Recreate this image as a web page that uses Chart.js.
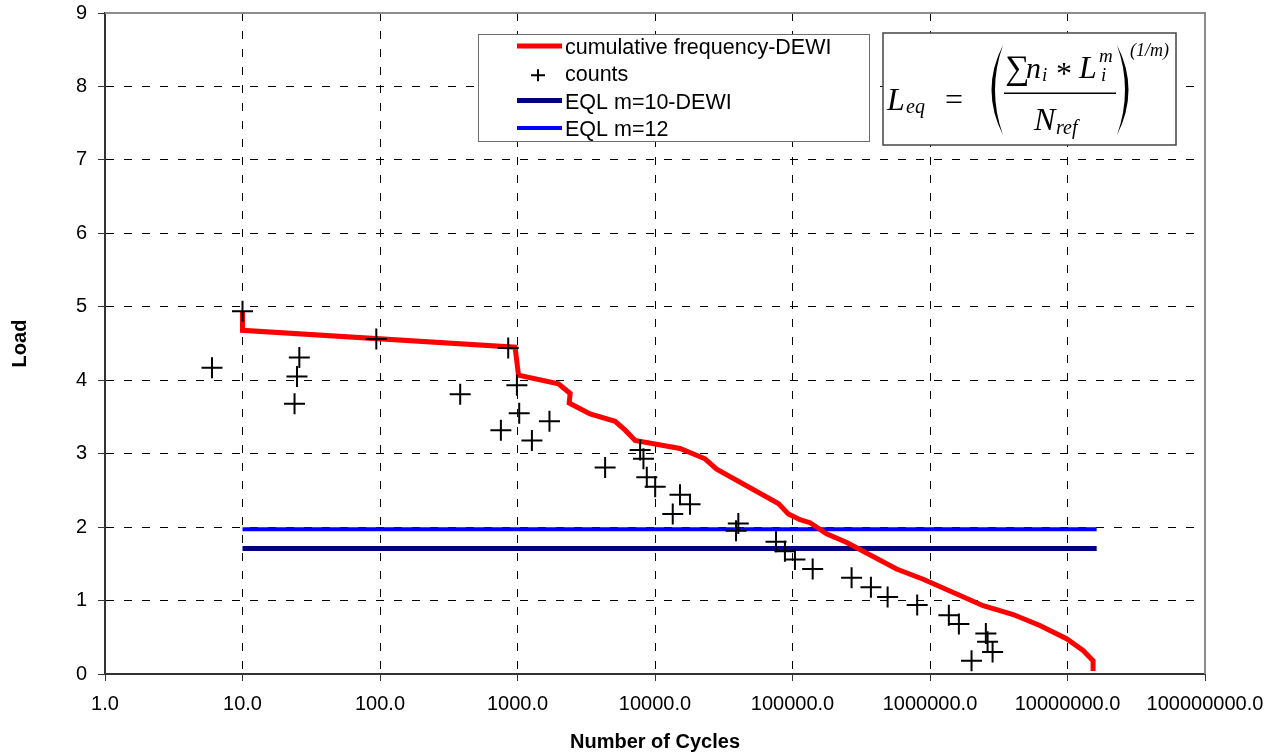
<!DOCTYPE html>
<html>
<head>
<meta charset="utf-8">
<script src="https://cdn.jsdelivr.net/npm/chart.js@4"></script>
<style>
  html, body { margin: 0; padding: 0; background: #fff; }
  #wrap { width: 1278px; height: 756px; position: relative; }
</style>
</head>
<body>
<div id="wrap"><canvas id="chart"></canvas></div>
<script>
// cumulative frequency curve (DEWI)
const cumCycles = [10, 10, 960, 1017, 1986, 2415, 2376, 3373, 5129, 6066, 7166, 15200, 23100, 28100,
  78900, 93300, 113400, 134000, 177000, 248000, 571000, 893000, 2437000, 4027000, 6296000,
  9840000, 12980000, 15350000, 15350000];
const cumLoad = [4.93, 4.68, 4.45, 4.07, 3.95, 3.82, 3.69, 3.54, 3.44, 3.32, 3.18, 3.07, 2.93, 2.79,
  2.32, 2.18, 2.10, 2.06, 1.91, 1.79, 1.43, 1.29, 0.93, 0.81, 0.66,
  0.48, 0.32, 0.18, 0.04];

// single counts
const countCycles = [6, 10, 25.9, 24.9, 23.9, 94, 856, 383, 990, 1029, 757, 1273, 1708, 4337,
  7797, 8240, 8716, 10030, 15200, 17980, 13460, 40370, 38850, 75900, 88100, 104200, 140200,
  269000, 371800, 491700, 807000, 1371000, 1622000, 2548000, 2623000, 2852000, 2005000];
const countLoad = [4.17, 4.94, 4.31, 4.05, 3.68, 4.56, 4.44, 3.81, 3.93, 3.55, 3.32, 3.18, 3.44, 2.81,
  3.05, 2.93, 2.68, 2.55, 2.44, 2.31, 2.18, 2.05, 1.95, 1.80, 1.67, 1.56, 1.43,
  1.31, 1.18, 1.05, 0.94, 0.80, 0.68, 0.55, 0.44, 0.30, 0.18];

// equivalent loads
const eqlCycles = [10, 16300000];
const eql10Load = [1.71, 1.71];
const eql12Load = [1.97, 1.97];

const xTicks = [1, 10, 100, 1000, 10000, 100000, 1000000, 10000000, 100000000];
const yMin = 0, yMax = 9;

const labels = ["cumulative frequency-DEWI", "counts", "EQL m=10-DEWI", "EQL m=12"];
const xTitle = "Number of Cycles";
const yTitle = "Load";

const SANS = "Arial, 'Liberation Sans', sans-serif";
const SERIF = "'Times New Roman', 'Liberation Serif', serif";

const pts = (xs, ys) => xs.map((x, i) => ({ x, y: ys[i] }));

// grey frame on top and right of the plot
const frame = {
  id: "frame",
  beforeDatasetsDraw(chart) {
    const { ctx, chartArea: a } = chart;
    ctx.save();
    ctx.strokeStyle = "#8c8c8c";
    ctx.lineWidth = 2;
    ctx.beginPath();
    ctx.moveTo(a.left, a.top);
    ctx.lineTo(a.right, a.top);
    ctx.lineTo(a.right, a.bottom);
    ctx.stroke();
    ctx.restore();
  }
};

// legend box drawn in the plot
const boxLegend = {
  id: "boxLegend",
  afterDraw(chart) {
    const ctx = chart.ctx;
    const x = 478.5, y = 34.5, w = 391, h = 107;
    ctx.save();
    ctx.fillStyle = "#fff";
    ctx.fillRect(x, y, w, h);
    ctx.strokeStyle = "#6e6e6e";
    ctx.lineWidth = 1;
    ctx.strokeRect(x, y, w, h);

    const sets = chart.data.datasets.slice().sort((a, b) => a.legendRank - b.legendRank);
    ctx.font = "21.5px " + SANS;
    ctx.textBaseline = "middle";
    ctx.fillStyle = "#000";
    sets.forEach((ds, i) => {
      const cy = 47 + i * 27.3;
      if (ds.showLine === false) {
        ctx.strokeStyle = "#000";
        ctx.lineWidth = 2;
        ctx.beginPath();
        ctx.moveTo(531, cy + 1); ctx.lineTo(545, cy + 1);
        ctx.moveTo(538, cy - 5); ctx.lineTo(538, cy + 7);
        ctx.stroke();
      } else {
        ctx.strokeStyle = ds.borderColor;
        ctx.lineWidth = ds.borderWidth;
        ctx.beginPath();
        ctx.moveTo(517, cy - 1); ctx.lineTo(562, cy - 1);
        ctx.stroke();
      }
      ctx.fillText(ds.label, 565, cy + 1);
    });
    ctx.restore();
  }
};

// formula box
const formula = {
  id: "formula",
  afterDraw(chart) {
    const ctx = chart.ctx;
    ctx.save();
    ctx.fillStyle = "#fff";
    ctx.fillRect(883, 33, 293, 112);
    ctx.strokeStyle = "#444";
    ctx.lineWidth = 1.5;
    ctx.strokeRect(883, 33, 293, 112);

    ctx.fillStyle = "#000";
    ctx.textBaseline = "alphabetic";
    const t = (s, x, y, size, it) => {
      ctx.font = (it ? "italic " : "") + size + "px " + SERIF;
      ctx.fillText(s, x, y);
    };
    t("L", 887, 110, 32, true);
    t("eq", 906, 113, 20, true);
    t("=", 945, 110, 32, false);

    // big parentheses
    const paren = (x0, xm, dir) => {
      ctx.beginPath();
      ctx.moveTo(x0, 45);
      ctx.quadraticCurveTo(xm, 90, x0, 135);
      ctx.quadraticCurveTo(xm + dir * 7, 90, x0, 45);
      ctx.fill();
    };
    paren(1003, 980, 1);
    paren(1117, 1140, -1);

    t("\u2211", 1005, 79, 34, false);
    t("n", 1026, 78, 30, true);
    t("i", 1042, 81, 19, true);
    t("*", 1056, 84, 32, false);
    t("L", 1079, 78, 32, true);
    t("m", 1099, 62, 19, true);
    t("i", 1101, 81, 19, true);

    ctx.fillRect(1004, 92.5, 112, 1.5);

    t("N", 1034, 130, 32, true);
    t("ref", 1056, 134, 20, true);
    t("(1/m)", 1130, 56, 18, true);
    ctx.restore();
  }
};

new Chart(document.getElementById("chart"), {
  type: "line",
  data: {
    datasets: [
      {
        label: labels[1],
        data: pts(countCycles, countLoad),
        showLine: false,
        pointStyle: "cross",
        pointRadius: 10.5,
        pointBorderWidth: 2,
        borderColor: "#000",
        backgroundColor: "#000",
        order: 0,
        legendRank: 1
      },
      {
        label: labels[0],
        data: pts(cumCycles, cumLoad),
        borderColor: "#ff0000",
        borderWidth: 5,
        pointRadius: 0,
        tension: 0,
        order: 1,
        legendRank: 0
      },
      {
        label: labels[2],
        data: pts(eqlCycles, eql10Load),
        borderColor: "#000080",
        borderWidth: 5,
        pointRadius: 0,
        order: 2,
        legendRank: 2
      },
      {
        label: labels[3],
        data: pts(eqlCycles, eql12Load),
        borderColor: "#0000ff",
        borderWidth: 4,
        pointRadius: 0,
        order: 3,
        legendRank: 3
      }
    ]
  },
  options: {
    responsive: true,
    maintainAspectRatio: false,
    animation: false,
    layout: { padding: { top: 13, right: 73, left: 0, bottom: 0 } },
    plugins: {
      legend: { display: false },
      tooltip: { enabled: false }
    },
    scales: {
      x: {
        type: "logarithmic",
        min: xTicks[0],
        max: xTicks[xTicks.length - 1],
        afterBuildTicks: s => { s.ticks = xTicks.map(v => ({ value: v })); },
        afterFit: s => { s.height = 82; },
        ticks: {
          autoSkip: false,
          maxRotation: 0,
          padding: 11,
          color: "#000",
          font: { family: SANS, size: 20 },
          callback: v => Number(v).toFixed(1)
        },
        grid: { color: "#000", lineWidth: 1, tickLength: 7, tickColor: "#333", tickBorderDash: [] },
        border: { color: "#333", width: 2, dash: [8, 10] },
        title: {
          display: true,
          text: xTitle,
          color: "#000",
          font: { family: SANS, size: 20, weight: "bold" },
          padding: { top: 0, bottom: 2 }
        }
      },
      y: {
        min: yMin,
        max: yMax,
        afterFit: s => { s.width = 105; s.paddingTop = 0; s.paddingBottom = 0; },
        ticks: {
          stepSize: 1,
          padding: 11,
          color: "#000",
          font: { family: SANS, size: 20 }
        },
        grid: { color: "#000", lineWidth: 1, tickLength: 7, tickColor: "#333", tickBorderDash: [] },
        border: { color: "#333", width: 2, dash: [8, 10] },
        title: {
          display: true,
          text: yTitle,
          color: "#000",
          font: { family: SANS, size: 20, weight: "bold" },
          padding: { top: 8, bottom: 0 }
        }
      }
    }
  },
  plugins: [frame, boxLegend, formula]
});
</script>
</body>
</html>
